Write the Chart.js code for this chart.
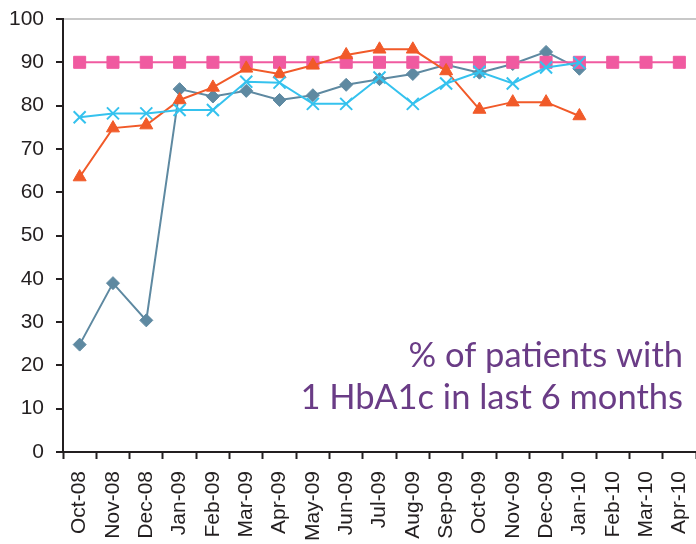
<!DOCTYPE html>
<html>
<head>
<meta charset="utf-8">
<script src="https://cdn.jsdelivr.net/npm/chart.js@4/dist/chart.umd.min.js"></script>
<style>
  html, body { margin: 0; padding: 0; background: #fff; }
  canvas { display: block; }
</style>
</head>
<body>
<canvas id="c" width="696" height="544"></canvas>
<script>
// monthly audit: % of patients with 1 HbA1c in last 6 months
const months = ["Oct-08", "Nov-08", "Dec-08", "Jan-09", "Feb-09", "Mar-09", "Apr-09", "May-09", "Jun-09",
  "Jul-09", "Aug-09", "Sep-09", "Oct-09", "Nov-09", "Dec-09", "Jan-10", "Feb-10", "Mar-10", "Apr-10"];

const target = [90, 90, 90, 90, 90, 90, 90, 90, 90, 90, 90, 90, 90, 90, 90, 90, 90, 90, 90];
const practiceA = [24.8, 39.0, 30.4, 83.8, 82.1, 83.4, 81.3, 82.4, 84.8, 86.1, 87.3, 89.4, 87.6, 89.6, 92.4, 88.5];
const practiceB = [63.5, 74.8, 75.5, 81.3, 84.2, 88.6, 87.3, 89.3, 91.7, 93.0, 93.0, 88.0, 79.1, 80.8, 80.8, 77.6];
const practiceC = [77.3, 78.2, 78.2, 79.0, 79.0, 85.5, 85.3, 80.4, 80.4, 86.5, 80.4, 85.1, 87.8, 85.1, 88.8, 89.9];

const yTicks = [0, 10, 20, 30, 40, 50, 60, 70, 80, 90, 100];
const noteLines = ["% of patients with", "1 HbA1c in last 6 months"];

const AXIS = "#231f20";

const notePlugin = {
  id: "note",
  afterDraw(chart) {
    const { ctx, chartArea } = chart;
    ctx.save();
    ctx.fillStyle = "#6a3c86";
    ctx.font = "34.5px Lato";
    ctx.textAlign = "right";
    ctx.textBaseline = "alphabetic";
    ctx.fillText(noteLines[0], chartArea.right - 13, 367);
    ctx.fillText(noteLines[1], chartArea.right - 13, 409);
    ctx.restore();
  }
};

function series(data, color, style, radius, extra) {
  return Object.assign({
    data,
    borderColor: color,
    backgroundColor: color,
    pointBackgroundColor: color,
    pointBorderColor: color,
    borderWidth: 2,
    pointBorderWidth: 1,
    pointStyle: style,
    pointRadius: radius,
    pointHoverRadius: radius,
    tension: 0
  }, extra || {});
}

// first dataset is drawn on top
new Chart(document.getElementById("c"), {
  type: "line",
  data: {
    labels: months,
    datasets: [
      series(practiceC, "#35c2ee", "crossRot", 8.5, { pointBorderWidth: 2 }),
      series(practiceB, "#f15a29", "triangle", 7.5),
      series(target, "#f05aa0", "rect", 8.5),
      series(practiceA, "#5e89a1", "rectRot", 6.5)
    ]
  },
  options: {
    responsive: false,
    animation: false,
    layout: { autoPadding: false, padding: { top: 19, right: 0, left: 0, bottom: 0 } },
    plugins: { legend: { display: false }, tooltip: { enabled: false } },
    scales: {
      x: {
        offset: true,
        grid: { offset: true, color: "transparent", tickColor: AXIS, tickLength: 7, tickWidth: 2 },
        border: { color: AXIS, width: 2 },
        ticks: { minRotation: 90, maxRotation: 90, autoSkip: false, color: "#231f20",
          font: { family: "'Liberation Sans', Arial", size: 21 }, padding: 12 },
        afterFit(scale) { scale.height = 92; scale.paddingRight = 0; scale.paddingLeft = 0; }
      },
      y: {
        min: 0,
        max: 100,
        afterBuildTicks(scale) { scale.ticks = yTicks.map(v => ({ value: v })); },
        grid: {
          color: c => (c.tick && c.tick.value === 100 ? "#c8c8c8" : "transparent"),
          lineWidth: 2,
          tickColor: AXIS, tickLength: 7, tickWidth: 2
        },
        border: { color: AXIS, width: 2 },
        ticks: { color: "#231f20", font: { family: "'Liberation Sans', Arial", size: 21 }, padding: 12 },
        afterFit(scale) { scale.width = 63; scale.paddingTop = 0; scale.paddingBottom = 0; }
      }
    }
  },
  plugins: [notePlugin]
});
</script>
</body>
</html>
